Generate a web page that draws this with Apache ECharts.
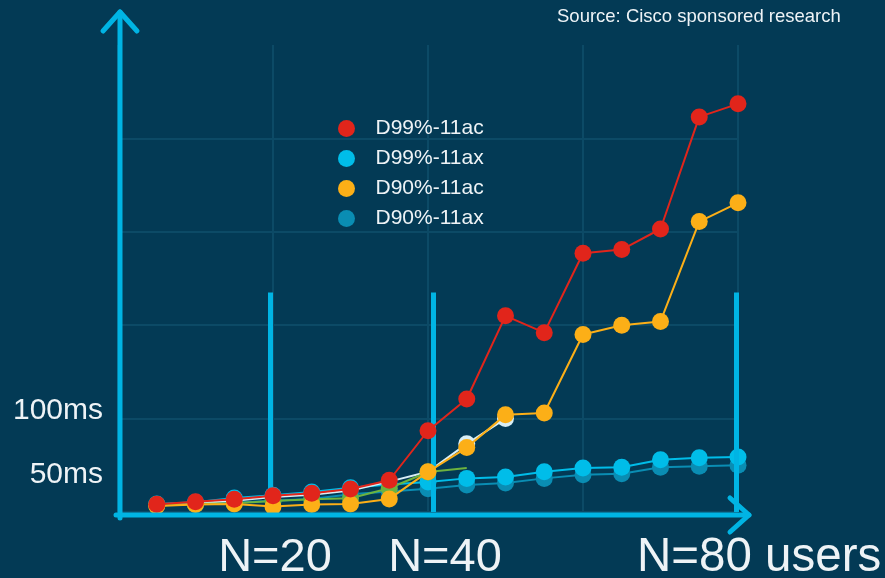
<!DOCTYPE html>
<html><head><meta charset="utf-8">
<script src="https://cdn.jsdelivr.net/npm/echarts@6/dist/echarts.min.js"></script>
<style>html,body{margin:0;padding:0;background:#033a55;}#c{width:885px;height:578px;}</style>
</head><body><div id="c"></div>
<script>
// ---- data ----
const users = [5,10,15,20,25,30,35,40,45,50,55,60,65,70,75,80];
const d99ac = [8.2,11,13.6,17.5,20,24.6,34,87,121,210,192,277,281,303,423,437];
const d99ax = [8.5,10.5,15,18,21.5,26,29.5,32,36,37.5,43,47,48,56,58,59];
const d90ac = [6.5,8,8.5,6,8,8.5,14,43,69,104,106,190,200,204,311,331];
const d90ax = [7,8,10,12,14,19,22,25,29,31,36,40,41,48,49,50];
const extraGreen = [8,8.5,9.3,11.8,13.6,14.7,25.4,42.8,47];
const extraWhite = [6.7,9.5,12.1,16,18.5,23.1,32.5,43,73,100];
const seriesNames = ['D99%-11ac','D99%-11ax','D90%-11ac','D90%-11ax'];
const yTickValues = [50,100];
const yTickLabels = ['50ms','100ms'];
const nMarks = [20,40,80];
const nLabels = ['N=20','N=40','N=80 users'];
const sourceText = 'Source: Cisco sponsored research';

const FONT = '"Liberation Sans", Arial, sans-serif';
const C = {red:'#e1251b', cyan:'#00bde9', orange:'#fcaf17', teal:'#0a8db3', green:'#6db33f', white:'#d8eef6', axis:'#00b4e4', grid:'#0c4a66', text:'#eef3f6'};

const pts = arr => arr.map((v,i)=>[users[i], v]);
function lineSeries(name, arr, color, z){
  return {name, type:'line', data:pts(arr), symbol:'circle', symbolSize:17, z,
    itemStyle:{color}, lineStyle:{color, width:2}, emphasis:{disabled:true}};
}

const chart = echarts.init(document.getElementById('c'), null, {renderer:'canvas'});
const barOffsets = [-0.3, 0.7, -0.2];
const series = [
  lineSeries(seriesNames[3], d90ax, C.teal, 2),
  lineSeries(seriesNames[1], d99ax, C.cyan, 3),
  {name:'w', type:'line', z:4, data: extraWhite.map((v,i)=>({value:[users[i],v], symbol: i>=8?'circle':'none'})),
    symbolSize:17, itemStyle:{color:C.white}, lineStyle:{color:C.white,width:2}},
  {name:'g', type:'line', z:5, data: extraGreen.map((v,i)=>({value:[users[i],v], symbol: i<extraGreen.length-1?'circle':'none'})),
    symbolSize:17, itemStyle:{color:C.green}, lineStyle:{color:C.green,width:2}},
  lineSeries(seriesNames[2], d90ac, C.orange, 6),
  lineSeries(seriesNames[0], d99ac, C.red, 7),
  {name:'bars', type:'line', data:[], markLine:{silent:true, symbol:'none', label:{show:false},
    lineStyle:{color:C.axis, width:5, type:'solid'},
    data: nMarks.map((n,i)=>[{coord:[n + barOffsets[i], 0]},{coord:[n + barOffsets[i], 235]}])}}
];

chart.setOption({
  animation:false,
  backgroundColor:'#033a55',
  grid:{left:118, right:147, top:45, bottom:66},
  xAxis:{type:'value', min:0, max:80, interval:20,
    axisLine:{show:false}, axisTick:{show:false}, axisLabel:{show:false},
    splitLine:{show:true, lineStyle:{color:C.grid, width:2}}},
  yAxis:{type:'value', min:0, max:500, interval:100,
    axisLine:{show:false}, axisTick:{show:false}, axisLabel:{show:false},
    splitLine:{show:true, showMaxLine:false, lineStyle:{color:C.grid, width:2}}},
  legend:{data:[seriesNames[0],seriesNames[1],seriesNames[2],seriesNames[3]], orient:'vertical',
    left:333, top:113, itemWidth:48, itemHeight:17, itemGap:9, icon:'circle',
    textStyle:{color:C.text, fontSize:21, fontFamily:FONT}, selectedMode:false},
  series
});

// decorations: axes with arrows, labels
const o = chart.convertToPixel({gridIndex:0},[0,0]);
const xEnd = chart.convertToPixel({gridIndex:0},[80,0])[0];
const ax = o[0]+2, ay = o[1]+3;
const lw = {stroke:C.axis, lineWidth:5, lineCap:'round', lineJoin:'round', fill:null};
const g = [
  {type:'line', shape:{x1:ax, y1:ay+3, x2:ax, y2:12}, style:lw, z:100},
  {type:'polyline', shape:{points:[[ax-17,31],[ax,12],[ax+17,31]]}, style:lw, z:100},
  {type:'line', shape:{x1:ax-4, y1:ay, x2:xEnd+11, y2:ay}, style:lw, z:100},
  {type:'polyline', shape:{points:[[xEnd-8,ay-17],[xEnd+11,ay],[xEnd-8,ay+17]]}, style:lw, z:100},
  {type:'text', x:557, y:17, style:{text:sourceText, fill:C.text, font:'18.5px '+FONT, textVerticalAlign:'middle'}},
  {type:'text', x:103, y:411, style:{text:yTickLabels[1], fill:C.text, font:'30px '+FONT, textAlign:'right', textVerticalAlign:'middle'}},
  {type:'text', x:103, y:475, style:{text:yTickLabels[0], fill:C.text, font:'30px '+FONT, textAlign:'right', textVerticalAlign:'middle'}},
  {type:'text', x:275, y:558, style:{text:nLabels[0], fill:C.text, font:'47px '+FONT, textAlign:'center', textVerticalAlign:'middle'}},
  {type:'text', x:445, y:558, style:{text:nLabels[1], fill:C.text, font:'47px '+FONT, textAlign:'center', textVerticalAlign:'middle'}},
  {type:'text', x:637, y:558, style:{text:nLabels[2], fill:C.text, font:'47.5px '+FONT, textAlign:'left', textVerticalAlign:'middle'}}
];
chart.setOption({graphic:g});
</script></body></html>
